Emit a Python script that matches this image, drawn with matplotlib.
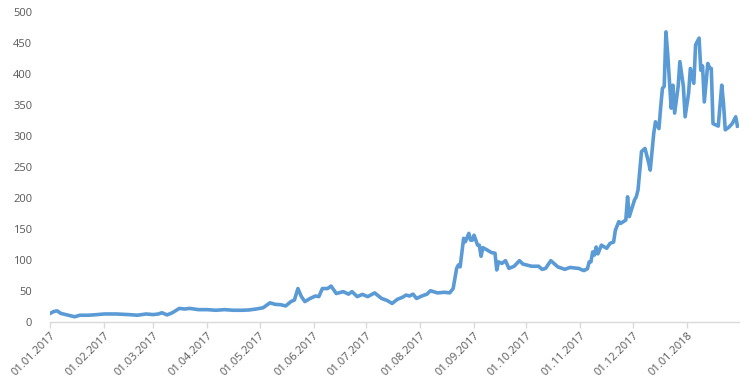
import pandas as pd
import matplotlib
matplotlib.use('Agg')
import matplotlib.pyplot as plt
import matplotlib.dates as mdates

# Kurs
dates = ['2017-01-01', '2017-01-03', '2017-01-05', '2017-01-07', '2017-01-10', '2017-01-13',
         '2017-01-15', '2017-01-18', '2017-01-23', '2017-01-28', '2017-02-01', '2017-02-08',
         '2017-02-15', '2017-02-20', '2017-02-25', '2017-03-01', '2017-03-04', '2017-03-06',
         '2017-03-09', '2017-03-12', '2017-03-16', '2017-03-19', '2017-03-22', '2017-03-27',
         '2017-04-01', '2017-04-06', '2017-04-11', '2017-04-16', '2017-04-21', '2017-04-25',
         '2017-04-29', '2017-05-03', '2017-05-07', '2017-05-10', '2017-05-13', '2017-05-16',
         '2017-05-19', '2017-05-21', '2017-05-23', '2017-05-25', '2017-05-27', '2017-05-30',
         '2017-06-02', '2017-06-04', '2017-06-06', '2017-06-09', '2017-06-11', '2017-06-14',
         '2017-06-18', '2017-06-21', '2017-06-23', '2017-06-26', '2017-06-29', '2017-07-02',
         '2017-07-06', '2017-07-10', '2017-07-13', '2017-07-16', '2017-07-19', '2017-07-22',
         '2017-07-24', '2017-07-26', '2017-07-28', '2017-07-30', '2017-08-02', '2017-08-05',
         '2017-08-07', '2017-08-11', '2017-08-15', '2017-08-18', '2017-08-20', '2017-08-22',
         '2017-08-23', '2017-08-24', '2017-08-26', '2017-08-27', '2017-08-29', '2017-08-30',
         '2017-08-31', '2017-09-01', '2017-09-03', '2017-09-04', '2017-09-05', '2017-09-06',
         '2017-09-08', '2017-09-11', '2017-09-13', '2017-09-14', '2017-09-15', '2017-09-17',
         '2017-09-19', '2017-09-21', '2017-09-24', '2017-09-27', '2017-09-29', '2017-10-04',
         '2017-10-08', '2017-10-10', '2017-10-12', '2017-10-15', '2017-10-19', '2017-10-23',
         '2017-10-26', '2017-10-31', '2017-11-02', '2017-11-03', '2017-11-05', '2017-11-06',
         '2017-11-07', '2017-11-08', '2017-11-09', '2017-11-10', '2017-11-11', '2017-11-13',
         '2017-11-16', '2017-11-18', '2017-11-20', '2017-11-21', '2017-11-23', '2017-11-24',
         '2017-11-27', '2017-11-28', '2017-11-29', '2017-12-02', '2017-12-03', '2017-12-04',
         '2017-12-06', '2017-12-08', '2017-12-10', '2017-12-11', '2017-12-13', '2017-12-14',
         '2017-12-16', '2017-12-17', '2017-12-18', '2017-12-19', '2017-12-20', '2017-12-21',
         '2017-12-23', '2017-12-24', '2017-12-25', '2017-12-27', '2017-12-28', '2017-12-30',
         '2017-12-31', '2018-01-02', '2018-01-03', '2018-01-05', '2018-01-06', '2018-01-08',
         '2018-01-09', '2018-01-10', '2018-01-11', '2018-01-13', '2018-01-14', '2018-01-15',
         '2018-01-16', '2018-01-19', '2018-01-21', '2018-01-22', '2018-01-23', '2018-01-25',
         '2018-01-27', '2018-01-29', '2018-01-30']
values = [14, 17, 18, 14, 12, 10,
          8.5, 11, 11, 12, 13, 13,
          12, 11, 13, 12, 13, 15,
          11.5, 15, 22, 21, 22, 20,
          20, 19, 20, 19, 19, 19.5,
          21, 23, 31, 28.5, 28, 26,
          33, 35.5, 54, 41, 33, 38,
          42, 41, 54, 54, 58, 46,
          49, 45, 49, 41, 44.6, 41,
          47, 38, 35, 30, 36.6, 40,
          43.5, 42, 45, 38, 42, 45,
          50.5, 47, 48, 47, 54, 86.5,
          92, 89, 135, 129.5, 143, 132,
          132, 140, 124, 124, 106, 120,
          117, 112, 111, 84, 97, 94.6,
          99, 86.5, 90, 99, 93.5, 90,
          90, 85, 86.5, 99, 89, 85,
          88, 86.5, 84, 83, 86, 97,
          97, 113, 108, 121, 110, 124,
          119, 127, 129, 148, 162, 159,
          164.5, 202, 170, 197, 202, 213,
          275, 280, 258, 245, 304, 323,
          312, 347, 377, 380, 468, 433,
          345, 382, 337, 380, 420, 380,
          331, 369, 409, 385, 447, 458,
          406, 413, 355, 417, 410, 409,
          320, 316, 382, 353, 310, 314,
          320, 331, 316]

df = pd.DataFrame({'Datum': pd.to_datetime(dates), 'Kurs': values})

plt.rcParams['font.family'] = ['Open Sans', 'DejaVu Sans']
txt_col = '#595959'

fig = plt.figure(figsize=(7.5, 3.88), dpi=100)
ax = fig.add_axes([0.067, 0.170, 0.918, 0.799])

ax.plot(df['Datum'], df['Kurs'], color='#5B9BD5', linewidth=2.6, solid_joinstyle='round')

ax.set_ylim(0, 500)
ax.set_yticks(range(0, 501, 50))
ax.set_xlim(pd.Timestamp('2017-01-01'), pd.Timestamp('2018-01-30 18:00'))
ax.xaxis.set_major_locator(mdates.MonthLocator())
ax.xaxis.set_major_formatter(mdates.DateFormatter('%d.%m.%Y'))

for s in ['top', 'right', 'left']:
    ax.spines[s].set_visible(False)
ax.spines['bottom'].set_color('#d9d9d9')
ax.spines['bottom'].set_linewidth(1)

ax.tick_params(axis='y', length=0, pad=13, labelsize=8, labelcolor=txt_col)
ax.tick_params(axis='x', length=4, width=1, color='#d9d9d9', pad=2, labelsize=8, labelcolor=txt_col)
for lab in ax.get_xticklabels():
    lab.set_rotation(45)
    lab.set_ha('right')
    lab.set_rotation_mode('anchor')

fig.savefig('out.png', dpi=100)
